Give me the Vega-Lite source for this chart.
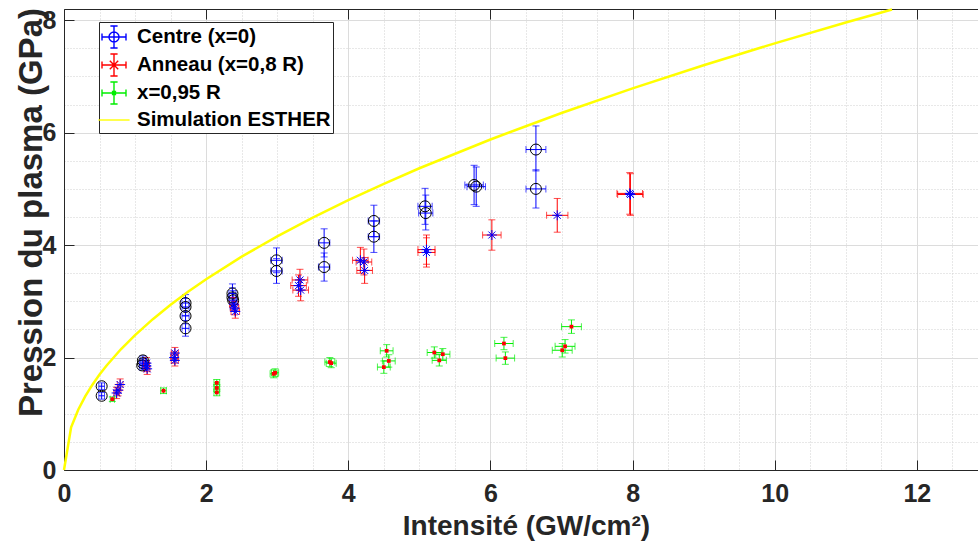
{
  "$schema": "https://vega.github.io/schema/vega-lite/v6.json",
  "autosize": {"type": "none"},
  "padding": {"left": 64, "top": 9, "right": 0, "bottom": 78},
  "width": 914,
  "height": 461,
  "background": "white",
  "config": {"view": {"stroke": null}, "font": "Liberation Sans"},
  "datasets": {
    "pts": [
      {"s": "C", "x": 0.53, "y": 1.49, "xlo": 0.49, "xhi": 0.57, "ylo": 1.43, "yhi": 1.55},
      {"s": "C", "x": 0.53, "y": 1.32, "xlo": 0.49, "xhi": 0.57, "ylo": 1.26, "yhi": 1.38},
      {"s": "C", "x": 1.11, "y": 1.95, "xlo": 1.07, "xhi": 1.15, "ylo": 1.87, "yhi": 2.03},
      {"s": "C", "x": 1.11, "y": 1.90, "xlo": 1.07, "xhi": 1.15, "ylo": 1.82, "yhi": 1.98},
      {"s": "C", "x": 1.10, "y": 1.86, "xlo": 1.06, "xhi": 1.14, "ylo": 1.78, "yhi": 1.94},
      {"s": "C", "x": 1.71, "y": 2.97, "xlo": 1.66, "xhi": 1.76, "ylo": 2.82, "yhi": 3.12},
      {"s": "C", "x": 1.71, "y": 2.90, "xlo": 1.66, "xhi": 1.76, "ylo": 2.75, "yhi": 3.05},
      {"s": "C", "x": 1.71, "y": 2.74, "xlo": 1.66, "xhi": 1.76, "ylo": 2.60, "yhi": 2.88},
      {"s": "C", "x": 1.71, "y": 2.52, "xlo": 1.66, "xhi": 1.76, "ylo": 2.38, "yhi": 2.66},
      {"s": "C", "x": 2.37, "y": 3.14, "xlo": 2.32, "xhi": 2.42, "ylo": 2.97, "yhi": 3.31},
      {"s": "C", "x": 2.37, "y": 3.07, "xlo": 2.32, "xhi": 2.42, "ylo": 2.90, "yhi": 3.24},
      {"s": "C", "x": 2.38, "y": 3.02, "xlo": 2.33, "xhi": 2.43, "ylo": 2.85, "yhi": 3.19},
      {"s": "C", "x": 2.99, "y": 3.73, "xlo": 2.91, "xhi": 3.07, "ylo": 3.51, "yhi": 3.95},
      {"s": "C", "x": 2.99, "y": 3.54, "xlo": 2.91, "xhi": 3.07, "ylo": 3.32, "yhi": 3.76},
      {"s": "C", "x": 3.66, "y": 4.04, "xlo": 3.58, "xhi": 3.74, "ylo": 3.79, "yhi": 4.29},
      {"s": "C", "x": 3.66, "y": 3.61, "xlo": 3.58, "xhi": 3.74, "ylo": 3.36, "yhi": 3.86},
      {"s": "C", "x": 4.36, "y": 4.43, "xlo": 4.28, "xhi": 4.44, "ylo": 4.15, "yhi": 4.71},
      {"s": "C", "x": 4.36, "y": 4.15, "xlo": 4.28, "xhi": 4.44, "ylo": 3.87, "yhi": 4.43},
      {"s": "C", "x": 5.08, "y": 4.69, "xlo": 4.98, "xhi": 5.18, "ylo": 4.37, "yhi": 5.01},
      {"s": "C", "x": 5.09, "y": 4.57, "xlo": 4.99, "xhi": 5.19, "ylo": 4.27, "yhi": 4.89},
      {"s": "C", "x": 5.77, "y": 5.07, "xlo": 5.64, "xhi": 5.90, "ylo": 4.72, "yhi": 5.42},
      {"s": "C", "x": 5.80, "y": 5.04, "xlo": 5.67, "xhi": 5.93, "ylo": 4.69, "yhi": 5.39},
      {"s": "C", "x": 6.64, "y": 5.70, "xlo": 6.50, "xhi": 6.78, "ylo": 5.32, "yhi": 6.12},
      {"s": "C", "x": 6.64, "y": 5.00, "xlo": 6.50, "xhi": 6.78, "ylo": 4.66, "yhi": 5.34},
      {"s": "A", "x": 0.79, "y": 1.52, "xlo": 0.75, "xhi": 0.83, "ylo": 1.42, "yhi": 1.62},
      {"s": "A", "x": 0.76, "y": 1.42, "xlo": 0.72, "xhi": 0.80, "ylo": 1.32, "yhi": 1.52},
      {"s": "A", "x": 0.74, "y": 1.37, "xlo": 0.70, "xhi": 0.78, "ylo": 1.27, "yhi": 1.47},
      {"s": "A", "x": 1.16, "y": 1.90, "xlo": 1.12, "xhi": 1.20, "ylo": 1.80, "yhi": 2.00},
      {"s": "A", "x": 1.16, "y": 1.85, "xlo": 1.12, "xhi": 1.20, "ylo": 1.75, "yhi": 1.95},
      {"s": "A", "x": 1.17, "y": 1.80, "xlo": 1.13, "xhi": 1.21, "ylo": 1.70, "yhi": 1.90},
      {"s": "A", "x": 1.56, "y": 2.08, "xlo": 1.51, "xhi": 1.61, "ylo": 1.98, "yhi": 2.18},
      {"s": "A", "x": 1.55, "y": 2.00, "xlo": 1.50, "xhi": 1.60, "ylo": 1.90, "yhi": 2.10},
      {"s": "A", "x": 1.56, "y": 1.95, "xlo": 1.51, "xhi": 1.61, "ylo": 1.85, "yhi": 2.05},
      {"s": "A", "x": 2.39, "y": 2.95, "xlo": 2.33, "xhi": 2.45, "ylo": 2.83, "yhi": 3.07},
      {"s": "A", "x": 2.40, "y": 2.88, "xlo": 2.34, "xhi": 2.46, "ylo": 2.76, "yhi": 3.00},
      {"s": "A", "x": 2.41, "y": 2.82, "xlo": 2.35, "xhi": 2.47, "ylo": 2.70, "yhi": 2.94},
      {"s": "A", "x": 3.32, "y": 3.38, "xlo": 3.21, "xhi": 3.43, "ylo": 3.19, "yhi": 3.57},
      {"s": "A", "x": 3.30, "y": 3.28, "xlo": 3.19, "xhi": 3.41, "ylo": 3.09, "yhi": 3.47},
      {"s": "A", "x": 3.33, "y": 3.20, "xlo": 3.22, "xhi": 3.44, "ylo": 3.01, "yhi": 3.39},
      {"s": "A", "x": 4.17, "y": 3.73, "xlo": 4.06, "xhi": 4.28, "ylo": 3.50, "yhi": 3.96},
      {"s": "A", "x": 4.22, "y": 3.70, "xlo": 4.11, "xhi": 4.33, "ylo": 3.47, "yhi": 3.93},
      {"s": "A", "x": 4.23, "y": 3.55, "xlo": 4.12, "xhi": 4.34, "ylo": 3.32, "yhi": 3.78},
      {"s": "A", "x": 5.10, "y": 3.92, "xlo": 4.98, "xhi": 5.22, "ylo": 3.66, "yhi": 4.18},
      {"s": "A", "x": 5.10, "y": 3.87, "xlo": 4.98, "xhi": 5.22, "ylo": 3.61, "yhi": 4.13},
      {"s": "A", "x": 6.02, "y": 4.18, "xlo": 5.89, "xhi": 6.15, "ylo": 3.91, "yhi": 4.45},
      {"s": "A", "x": 6.94, "y": 4.53, "xlo": 6.79, "xhi": 7.09, "ylo": 4.23, "yhi": 4.83},
      {"s": "A", "x": 7.96, "y": 4.92, "xlo": 7.78, "xhi": 8.14, "ylo": 4.55, "yhi": 5.29},
      {"s": "A", "x": 7.97, "y": 4.90, "xlo": 7.79, "xhi": 8.15, "ylo": 4.53, "yhi": 5.27},
      {"s": "G", "x": 0.68, "y": 1.26, "xlo": 0.65, "xhi": 0.71, "ylo": 1.22, "yhi": 1.30},
      {"s": "G", "x": 1.40, "y": 1.41, "xlo": 1.36, "xhi": 1.44, "ylo": 1.36, "yhi": 1.46},
      {"s": "G", "x": 2.15, "y": 1.55, "xlo": 2.11, "xhi": 2.19, "ylo": 1.49, "yhi": 1.61},
      {"s": "G", "x": 2.15, "y": 1.46, "xlo": 2.11, "xhi": 2.19, "ylo": 1.40, "yhi": 1.52},
      {"s": "G", "x": 2.15, "y": 1.38, "xlo": 2.11, "xhi": 2.19, "ylo": 1.32, "yhi": 1.44},
      {"s": "G", "x": 2.95, "y": 1.71, "xlo": 2.90, "xhi": 3.00, "ylo": 1.64, "yhi": 1.78},
      {"s": "G", "x": 2.97, "y": 1.73, "xlo": 2.92, "xhi": 3.02, "ylo": 1.66, "yhi": 1.80},
      {"s": "G", "x": 3.74, "y": 1.92, "xlo": 3.67, "xhi": 3.81, "ylo": 1.84, "yhi": 2.00},
      {"s": "G", "x": 3.76, "y": 1.90, "xlo": 3.69, "xhi": 3.83, "ylo": 1.82, "yhi": 1.98},
      {"s": "G", "x": 4.54, "y": 2.12, "xlo": 4.45, "xhi": 4.63, "ylo": 2.01, "yhi": 2.23},
      {"s": "G", "x": 4.57, "y": 1.94, "xlo": 4.48, "xhi": 4.66, "ylo": 1.83, "yhi": 2.05},
      {"s": "G", "x": 4.50, "y": 1.83, "xlo": 4.41, "xhi": 4.59, "ylo": 1.72, "yhi": 1.94},
      {"s": "G", "x": 5.21, "y": 2.09, "xlo": 5.11, "xhi": 5.31, "ylo": 1.99, "yhi": 2.19},
      {"s": "G", "x": 5.33, "y": 2.06, "xlo": 5.23, "xhi": 5.43, "ylo": 1.96, "yhi": 2.16},
      {"s": "G", "x": 5.28, "y": 1.95, "xlo": 5.18, "xhi": 5.38, "ylo": 1.85, "yhi": 2.05},
      {"s": "G", "x": 6.19, "y": 2.25, "xlo": 6.06, "xhi": 6.32, "ylo": 2.14, "yhi": 2.36},
      {"s": "G", "x": 6.21, "y": 1.99, "xlo": 6.08, "xhi": 6.34, "ylo": 1.88, "yhi": 2.10},
      {"s": "G", "x": 7.14, "y": 2.55, "xlo": 7.00, "xhi": 7.28, "ylo": 2.43, "yhi": 2.67},
      {"s": "G", "x": 7.05, "y": 2.20, "xlo": 6.91, "xhi": 7.19, "ylo": 2.08, "yhi": 2.32},
      {"s": "G", "x": 7.01, "y": 2.13, "xlo": 6.87, "xhi": 7.15, "ylo": 2.01, "yhi": 2.25}
    ],
    "curve": [
      {"x": 0, "y": 0}, {"x": 0.1, "y": 0.759}, {"x": 0.2, "y": 1.073}, {"x": 0.3, "y": 1.315},
      {"x": 0.4, "y": 1.518}, {"x": 0.5, "y": 1.697}, {"x": 0.6, "y": 1.859}, {"x": 0.8, "y": 2.147},
      {"x": 1, "y": 2.4}, {"x": 1.25, "y": 2.683}, {"x": 1.5, "y": 2.939}, {"x": 1.75, "y": 3.175},
      {"x": 2, "y": 3.394}, {"x": 2.5, "y": 3.795}, {"x": 3, "y": 4.157}, {"x": 3.5, "y": 4.49},
      {"x": 4, "y": 4.8}, {"x": 4.5, "y": 5.091}, {"x": 5, "y": 5.367}, {"x": 6, "y": 5.879},
      {"x": 7, "y": 6.35}, {"x": 8, "y": 6.788}, {"x": 9, "y": 7.2}, {"x": 10, "y": 7.589},
      {"x": 11, "y": 7.96}, {"x": 11.65, "y": 8.192}
    ],
    "leg": [
      {"name": "Centre (x=0)"},
      {"name": "Anneau (x=0,8 R)"},
      {"name": "x=0,95 R"},
      {"name": "Simulation ESTHER"}
    ]
  },
  "resolve": {"axis": {"x": "independent", "y": "independent"}},
  "layer": [
    {
      "data": {"name": "pts"},
      "mark": {"type": "rule", "strokeWidth": 1},
      "encoding": {
        "x": {"field": "x", "type": "quantitative", "scale": {"domain": [0, 12.86], "nice": false, "zero": false},
              "axis": {"orient": "top", "values": [0,2,4,6,8,10,12],
                       "grid": false, "ticks": true, "tickSize": -10, "tickColor": "#262626", "tickWidth": 1,
                       "labels": false, "domain": true, "domainColor": "#262626", "domainWidth": 1, "title": null}},
        "y": {"field": "ylo", "type": "quantitative", "scale": {"domain": [0, 8.2], "nice": false, "zero": false}, "axis": null},
        "y2": {"field": "yhi"},
        "color": {"condition": [{"test": "datum.s === 'C'", "value": "#0000ff"}, {"test": "datum.s === 'A'", "value": "#ff0000"}], "value": "#00ee00"}
      }
    },
    {
      "data": {"name": "pts"},
      "mark": {"type": "rule", "strokeWidth": 1},
      "encoding": {
        "x": {"field": "xlo", "type": "quantitative", "scale": {"domain": [0, 12.86], "nice": false, "zero": false}, "axis": null},
        "x2": {"field": "xhi"},
        "y": {"field": "y", "type": "quantitative", "scale": {"domain": [0, 8.2], "nice": false, "zero": false}, "axis": null},
        "color": {"condition": [{"test": "datum.s === 'C'", "value": "#0000ff"}, {"test": "datum.s === 'A'", "value": "#ff0000"}], "value": "#00ee00"}
      }
    },
    {
      "data": {"name": "pts"},
      "mark": {"type": "tick", "orient": "horizontal", "size": 7, "thickness": 1},
      "encoding": {
        "x": {"field": "x", "type": "quantitative", "scale": {"domain": [0, 12.86], "nice": false, "zero": false}, "axis": null},
        "y": {"field": "ylo", "type": "quantitative", "scale": {"domain": [0, 8.2], "nice": false, "zero": false}, "axis": null},
        "color": {"condition": [{"test": "datum.s === 'C'", "value": "#0000ff"}, {"test": "datum.s === 'A'", "value": "#ff0000"}], "value": "#00ee00"}
      }
    },
    {
      "data": {"name": "pts"},
      "mark": {"type": "tick", "orient": "horizontal", "size": 7, "thickness": 1},
      "encoding": {
        "x": {"field": "x", "type": "quantitative", "scale": {"domain": [0, 12.86], "nice": false, "zero": false}, "axis": null},
        "y": {"field": "yhi", "type": "quantitative", "scale": {"domain": [0, 8.2], "nice": false, "zero": false}, "axis": null},
        "color": {"condition": [{"test": "datum.s === 'C'", "value": "#0000ff"}, {"test": "datum.s === 'A'", "value": "#ff0000"}], "value": "#00ee00"}
      }
    },
    {
      "data": {"name": "pts"},
      "mark": {"type": "tick", "orient": "vertical", "size": 7, "thickness": 1},
      "encoding": {
        "x": {"field": "xlo", "type": "quantitative", "scale": {"domain": [0, 12.86], "nice": false, "zero": false}, "axis": null},
        "y": {"field": "y", "type": "quantitative", "scale": {"domain": [0, 8.2], "nice": false, "zero": false}, "axis": null},
        "color": {"condition": [{"test": "datum.s === 'C'", "value": "#0000ff"}, {"test": "datum.s === 'A'", "value": "#ff0000"}], "value": "#00ee00"}
      }
    },
    {
      "data": {"name": "pts"},
      "mark": {"type": "tick", "orient": "vertical", "size": 7, "thickness": 1},
      "encoding": {
        "x": {"field": "xhi", "type": "quantitative", "scale": {"domain": [0, 12.86], "nice": false, "zero": false}, "axis": null},
        "y": {"field": "y", "type": "quantitative", "scale": {"domain": [0, 8.2], "nice": false, "zero": false}, "axis": null},
        "color": {"condition": [{"test": "datum.s === 'C'", "value": "#0000ff"}, {"test": "datum.s === 'A'", "value": "#ff0000"}], "value": "#00ee00"}
      }
    },
    {
      "data": {"name": "pts"},
      "transform": [{"filter": "datum.s === 'C'"}],
      "mark": {"type": "point", "shape": "circle", "size": 121, "filled": false, "stroke": "#000000", "strokeWidth": 1, "opacity": 1},
      "encoding": {
        "x": {"field": "x", "type": "quantitative", "scale": {"domain": [0, 12.86], "nice": false, "zero": false}, "axis": null},
        "y": {"field": "y", "type": "quantitative", "scale": {"domain": [0, 8.2], "nice": false, "zero": false}, "axis": null}
      }
    },
    {
      "data": {"name": "pts"},
      "transform": [{"filter": "datum.s === 'A'"}],
      "mark": {"type": "point", "shape": "M-1,0L1,0M0,-1L0,1M-0.7,-0.7L0.7,0.7M-0.7,0.7L0.7,-0.7", "size": 100, "filled": false, "stroke": "#0000ff", "strokeWidth": 1, "opacity": 1},
      "encoding": {
        "x": {"field": "x", "type": "quantitative", "scale": {"domain": [0, 12.86], "nice": false, "zero": false}, "axis": null},
        "y": {"field": "y", "type": "quantitative", "scale": {"domain": [0, 8.2], "nice": false, "zero": false}, "axis": null}
      }
    },
    {
      "data": {"name": "pts"},
      "transform": [{"filter": "datum.s === 'G'"}],
      "mark": {"type": "point", "shape": "square", "size": 14, "filled": true, "color": "#ff0000", "opacity": 1},
      "encoding": {
        "x": {"field": "x", "type": "quantitative", "scale": {"domain": [0, 12.86], "nice": false, "zero": false}, "axis": null},
        "y": {"field": "y", "type": "quantitative", "scale": {"domain": [0, 8.2], "nice": false, "zero": false}, "axis": null}
      }
    },
    {
      "data": {"name": "curve"},
      "mark": {"type": "line", "color": "#ffff00", "strokeWidth": 2.5},
      "encoding": {
        "x": {"field": "x", "type": "quantitative", "scale": {"domain": [0, 12.86], "nice": false, "zero": false},
              "axis": {"orient": "bottom",
                       "values": [0,0.5,1,1.5,2,2.5,3,3.5,4,4.5,5,5.5,6,6.5,7,7.5,8,8.5,9,9.5,10,10.5,11,11.5,12,12.5],
                       "labelExpr": "datum.value % 2 === 0 ? format(datum.value, 'd') : ''",
                       "grid": true,
                       "gridColor": {"condition": {"test": "datum.value % 2 === 0", "value": "#dcdcdc"}, "value": "#d0d0d0"},
                       "gridDash": {"condition": {"test": "datum.value % 2 === 0", "value": []}, "value": [1, 2]},
                       "gridWidth": 1,
                       "domainColor": "#262626", "domainWidth": 1,
                       "ticks": true, "tickColor": "#262626", "tickSize": -10, "tickWidth": 1,
                       "tickOpacity": {"condition": {"test": "datum.value % 2 === 0", "value": 1}, "value": 0},
                       "labelFont": "Liberation Sans", "labelFontSize": 25, "labelFontWeight": "bold", "labelColor": "#262626",
                       "labelPadding": 21, "labelFlush": false, "labelOverlap": false,
                       "title": "Intensité (GW/cm²)", "titleFont": "Liberation Sans", "titleFontSize": 28, "titleFontWeight": "bold",
                       "titleColor": "#262626", "titleX": 462, "titleY": 64, "titleAlign": "center", "titleBaseline": "alphabetic"}},
        "y": {"field": "y", "type": "quantitative", "scale": {"domain": [0, 8.2], "nice": false, "zero": false},
              "axis": {"orient": "left",
                       "values": [0,0.5,1,1.5,2,2.5,3,3.5,4,4.5,5,5.5,6,6.5,7,7.5,8],
                       "labelExpr": "datum.value % 2 === 0 ? format(datum.value, 'd') : ''",
                       "grid": true,
                       "gridColor": {"condition": {"test": "datum.value % 2 === 0", "value": "#dcdcdc"}, "value": "#d0d0d0"},
                       "gridDash": {"condition": {"test": "datum.value % 2 === 0", "value": []}, "value": [1, 2]},
                       "gridWidth": 1,
                       "domainColor": "#262626", "domainWidth": 1,
                       "ticks": true, "tickColor": "#262626", "tickSize": -10, "tickWidth": 1,
                       "tickOpacity": {"condition": {"test": "datum.value % 2 === 0", "value": 1}, "value": 0},
                       "labelFont": "Liberation Sans", "labelFontSize": 25, "labelFontWeight": "bold", "labelColor": "#262626",
                       "labelPadding": 18, "labelFlush": false, "labelOverlap": false,
                       "title": "Pression du plasma (GPa)", "titleFont": "Liberation Sans", "titleFontSize": 33, "titleFontWeight": "bold",
                       "titleColor": "#262626", "titleX": -23, "titleY": 203, "titleAngle": -90, "titleAlign": "center", "titleBaseline": "alphabetic"}}
      }
    },
    {
      "data": {"name": "leg"},
      "mark": {"type": "point", "filled": false, "clip": true, "strokeWidth": 1.4, "opacity": 1},
      "encoding": {
        "x": {"datum": -1, "type": "quantitative", "scale": {"domain": [0, 12.86], "nice": false, "zero": false}, "axis": null},
        "y": {"datum": -1, "type": "quantitative", "scale": {"domain": [0, 8.2], "nice": false, "zero": false}, "axis": null},
        "color": {"field": "name", "type": "nominal",
                  "scale": {"domain": ["Centre (x=0)", "Anneau (x=0,8 R)", "x=0,95 R", "Simulation ESTHER"],
                            "range": ["#0000ff", "#ff0000", "#00ee00", "#ffff00"]},
                  "legend": {"orient": "none", "legendX": 35, "legendY": 13, "title": null,
                             "fillColor": "white", "strokeColor": "#262626", "padding": 2,
                             "symbolSize": 576, "symbolStrokeWidth": 1.4, "rowPadding": 0,
                             "labelFont": "Liberation Sans", "labelFontSize": 20.5, "labelFontWeight": "bold", "labelColor": "#000000",
                             "labelOffset": 10, "labelLimit": 400}},
        "shape": {"field": "name", "type": "nominal",
                  "scale": {"domain": ["Centre (x=0)", "Anneau (x=0,8 R)", "x=0,95 R", "Simulation ESTHER"],
                            "range": [
                              "M-1,0L1,0M-1,-0.3L-1,0.3M1,-0.3L1,0.3M0,-0.92L0,0.92M-0.3,-0.92L0.3,-0.92M-0.3,0.92L0.3,0.92M-0.42,0A0.42,0.42 0 1,0 0.42,0A0.42,0.42 0 1,0 -0.42,0",
                              "M-1,0L1,0M-1,-0.3L-1,0.3M1,-0.3L1,0.3M0,-0.92L0,0.92M-0.3,-0.92L0.3,-0.92M-0.3,0.92L0.3,0.92M-0.35,-0.35L0.35,0.35M-0.35,0.35L0.35,-0.35",
                              "M-1,0L1,0M-1,-0.3L-1,0.3M1,-0.3L1,0.3M0,-0.92L0,0.92M-0.3,-0.92L0.3,-0.92M-0.3,0.92L0.3,0.92M-0.12,-0.12L0.12,-0.12L0.12,0.12L-0.12,0.12Z",
                              "M-1.3,0L1.3,0"
                            ]},
                  "legend": {"orient": "none", "legendX": 35, "legendY": 13, "title": null,
                             "fillColor": "white", "strokeColor": "#262626", "padding": 2,
                             "symbolSize": 576, "symbolStrokeWidth": 1.4, "rowPadding": 0,
                             "labelFont": "Liberation Sans", "labelFontSize": 20.5, "labelFontWeight": "bold", "labelColor": "#000000",
                             "labelOffset": 10, "labelLimit": 400}}
      }
    }
  ]
}
